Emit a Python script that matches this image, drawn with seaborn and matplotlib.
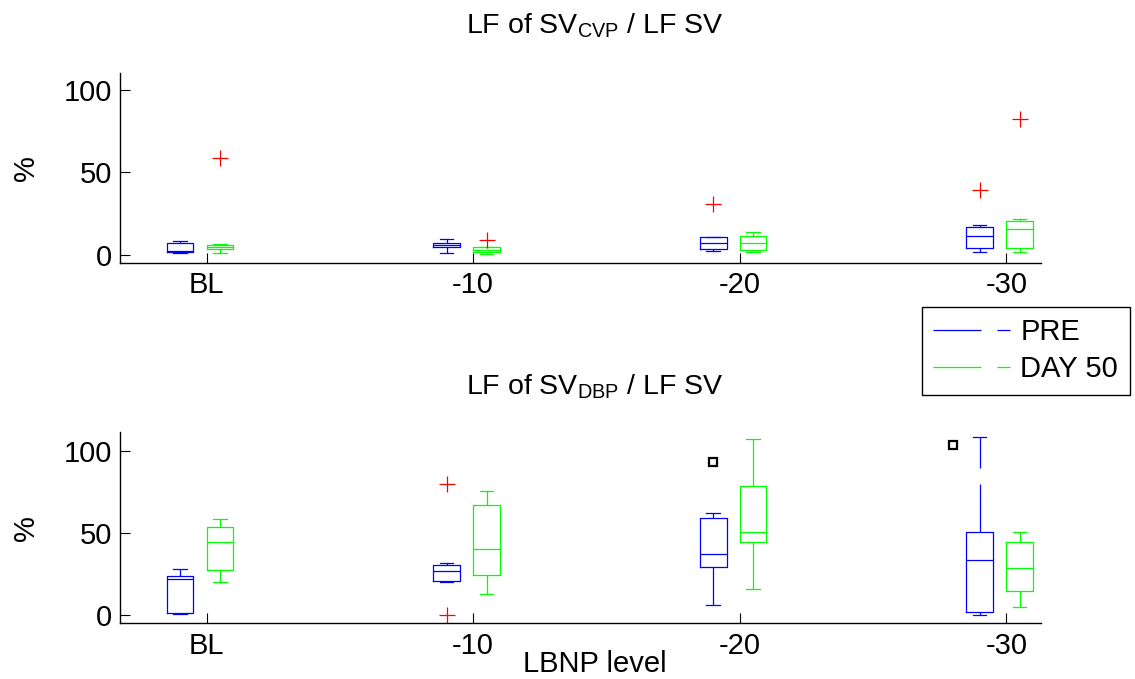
import numpy as np
import pandas as pd
import seaborn as sns
import matplotlib.pyplot as plt
from matplotlib.lines import Line2D

# ---- data ----
levels = ["BL", "-10", "-20", "-30"]
groups = ["PRE", "DAY 50"]

# LF of SV_CVP / LF SV, one sample list per LBNP level
cvp_pre = [
    [1.4, 1.5, 1.7, 2.1, 2.6, 4.8, 7.1, 7.8, 8.5],
    [1.2, 3.5, 4.7, 5.5, 6.1, 6.8, 7.5, 8.6, 9.5],
    [2.4, 3.2, 3.8, 5.6, 7.3, 9.0, 10.7, 11.1, 31.1],
    [2.0, 3.1, 4.2, 8.0, 11.7, 14.5, 17.2, 18.0, 39.4],
]
cvp_day50 = [
    [1.2, 2.6, 3.4, 4.1, 4.7, 5.5, 6.1, 6.5, 58.6],
    [0.6, 1.5, 2.0, 2.6, 3.2, 3.9, 4.6, 5.0, 8.8],
    [1.8, 2.3, 2.8, 5.0, 7.1, 9.5, 11.7, 13.0, 14.1],
    [1.6, 2.8, 4.0, 10.0, 15.9, 18.5, 20.8, 21.6, 82.6],
]

# LF of SV_DBP / LF SV
dbp_pre = [
    [0.6, 1.0, 1.4, 12.0, 21.9, 22.7, 23.5, 26.0, 28.0],
    [0.3, 19.9, 20.7, 24.0, 26.6, 28.5, 30.2, 31.5, 79.7],
    [5.9, 18.0, 29.2, 33.0, 37.3, 48.0, 58.9, 60.5, 62.3],
    [0.0, 0.8, 1.6, 17.0, 33.3, 42.0, 50.7, 80.0, 108.5],
]
dbp_day50 = [
    [19.9, 24.0, 27.4, 36.0, 44.6, 49.0, 53.4, 56.0, 58.4],
    [12.8, 18.0, 24.5, 32.0, 40.4, 55.0, 67.1, 71.0, 75.3],
    [15.6, 30.0, 44.2, 47.0, 50.3, 64.0, 78.5, 92.0, 106.9],
    [5.1, 9.0, 14.4, 21.0, 28.4, 36.0, 44.6, 48.0, 50.7],
]

# extra black marks in the DBP panel (PRE group)
mark_levels = ["-20", "-30"]
mark_values = [93.3, 103.5]

titles = ["LF of SV$_{\\mathregular{CVP}}$ / LF SV",
          "LF of SV$_{\\mathregular{DBP}}$ / LF SV"]

colors = {"PRE": (0, 0, 1), "DAY 50": (0, 1, 0)}

BOX_WIDTH = 0.3
GAP = 0.33
LW = 0.9
DASH = (0, (38.4, 12.8))
FS = 21


def to_long(pre, day50):
    rows = []
    for grp, series in zip(groups, [pre, day50]):
        for lvl, sample in zip(levels, series):
            for v in sample:
                rows.append({"level": lvl, "group": grp, "value": v})
    return pd.DataFrame(rows)


def draw_panel(ax, df, title, ylim, title_y):
    sns.boxplot(
        data=df, x="level", y="value", hue="group",
        order=levels, hue_order=groups, palette=colors,
        fill=False, width=BOX_WIDTH, gap=GAP, linewidth=LW, whis=1.5,
        whiskerprops=dict(linestyle=DASH),
        flierprops=dict(marker="+", markeredgecolor="r",
                        markersize=11.5, markeredgewidth=0.9),
        legend=False, ax=ax,
    )
    sub_w = BOX_WIDTH / len(groups)
    # ticks sit at the left edge of the DAY 50 box, as in the original
    tick_x = np.arange(len(levels)) + sub_w / 2 - sub_w * (1 - GAP) / 2
    ax.set_xticks(tick_x, levels)
    ax.set_xlim(-0.30, 3.155)
    ax.set_ylim(*ylim)
    ax.set_yticks([0, 50, 100])
    ax.tick_params(direction="in", length=7.5, width=0.8, labelsize=FS,
                   colors="k")
    ax.tick_params(axis="y", pad=6)
    ax.tick_params(axis="x", pad=6)
    ax.spines[["top", "right"]].set_visible(False)
    for s in ["left", "bottom"]:
        ax.spines[s].set_linewidth(1.0)
        ax.spines[s].set_color("k")
    ax.set_xlabel("")
    ax.set_ylabel("%", fontsize=FS, va="center")
    ax.yaxis.set_label_coords(-0.102, 0.5)
    ax.set_title(title, fontsize=20.5, x=0.516, y=title_y, pad=0,
                 va="baseline")


plt.rcParams["font.family"] = ["Liberation Sans", "DejaVu Sans"]
plt.rcParams["mathtext.fontset"] = "custom"
plt.rcParams["mathtext.rm"] = "Liberation Sans"

fig = plt.figure(figsize=(11.35, 6.79), dpi=100)
ax_top = fig.add_axes([120 / 1135, 1 - 263 / 679, 921 / 1135, 190 / 679])
ax_bot = fig.add_axes([120 / 1135, 1 - 623.3 / 679, 921 / 1135, 191.3 / 679])

draw_panel(ax_top, to_long(cvp_pre, cvp_day50), titles[0],
           (-4.85, 110.3), 1 + 40 / 190)
draw_panel(ax_bot, to_long(dbp_pre, dbp_day50), titles[1],
           (-5.05, 111.4), 1 + 38 / 191.3)

# black marks at the PRE box position; nudge left if they sit on a whisker
sub_w = BOX_WIDTH / len(groups)
pre_off = sub_w * 0.5 - BOX_WIDTH / 2
for lvl, val in zip(mark_levels, mark_values):
    i = levels.index(lvl)
    x = i + pre_off
    if val <= max(dbp_pre[i]):
        x -= sub_w * (1 - GAP)
    ax_bot.plot([x], [val], marker="s", markersize=5.5, markeredgewidth=1.6,
                markeredgecolor="k", markerfacecolor="none", linestyle="none")

ax_bot.set_xlabel("LBNP level", fontsize=FS, va="baseline")
ax_bot.xaxis.set_label_coords(0.516, -0.2546)

handles = [Line2D([], [], color=colors[g], lw=LW, linestyle=DASH)
           for g in groups]
leg = fig.legend(handles, groups, loc="upper left",
                 bbox_to_anchor=(921.7 / 1135, 1 - 306.7 / 679),
                 bbox_transform=fig.transFigure, borderaxespad=0,
                 fontsize=FS, handlelength=2.64, handletextpad=0.34,
                 borderpad=0.4, labelspacing=0.3, fancybox=False,
                 framealpha=1, edgecolor="k")
leg.get_frame().set_linewidth(1.0)

fig.savefig("out.png", dpi=100)
